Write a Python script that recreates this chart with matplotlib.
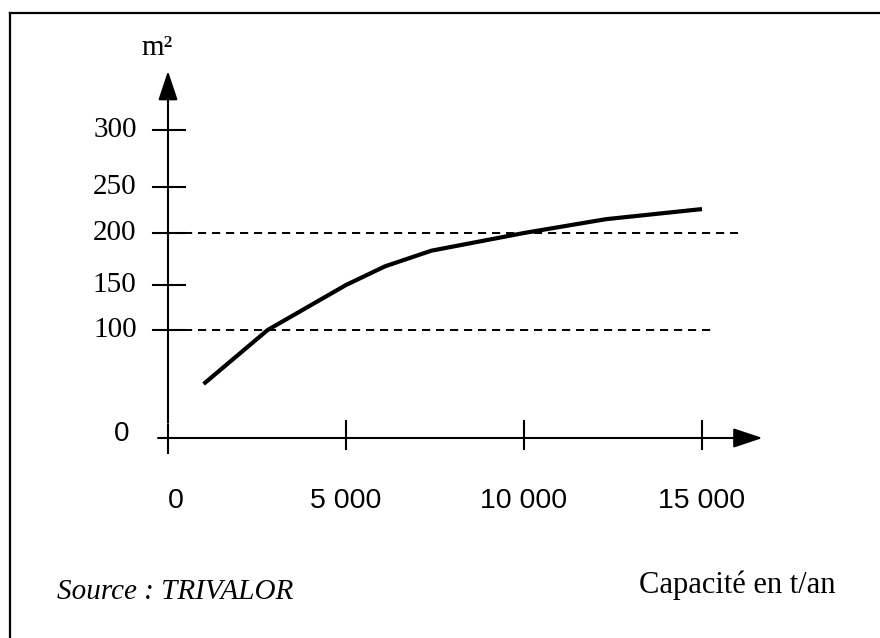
import matplotlib
matplotlib.use('Agg')
import matplotlib.pyplot as plt
from matplotlib.lines import Line2D
import numpy as np

# surface needed (m2) vs plant capacity (t/an)
capacity = [1000, 2800, 5000, 6100, 7400, 10000, 12300, 15000]
surface = [50, 100, 150, 168, 183, 200, 215, 226]

x_ticks = [0, 5000, 10000, 15000]
x_labels = ['0', '5 000', '10 000', '15 000']
y_ticks = [100, 150, 200, 250, 300]
y_labels = ['100', '150', '200', '250', '300']
ref_levels = [100, 200]
ref_ends = [15400, 16000]

# the hand drawn y axis is not evenly spaced: piecewise scale through its ticks
anchor_val = np.array([-300, 0, 100, 150, 200, 250, 300, 700])
anchor_row = np.array([762, 438, 330, 285, 233, 187, 130, -270])

def fwd(y):
    return -np.interp(y, anchor_val, anchor_row)

def inv(d):
    return np.interp(d, -anchor_row, anchor_val)

serif = 'Liberation Serif'
sans = 'Liberation Sans'

fig = plt.figure(figsize=(8.8, 6.38), dpi=100)
ax = fig.add_axes([0, 0, 1, 1])
ax.set_yscale('function', functions=(fwd, inv))
ax.set_xlim(-4719, 20000)
ax.set_ylim(-185.2, 430)
ax.set_axis_off()

# frame (only top and left edges are inside the picture)
fig.add_artist(Line2D([10/880, 1], [1-13/638, 1-13/638], lw=1.6, color='k'))
fig.add_artist(Line2D([10/880, 10/880], [0, 1-13/638], lw=1.6, color='k'))

# axes with arrows
arr = dict(arrowstyle='-|>,head_length=1.8,head_width=0.6', mutation_scale=10,
           lw=1.5, color='k', shrinkA=0, shrinkB=0)
ax.annotate('', xy=(16700, 0), xytext=(-280, 0), arrowprops=arr)
ax.annotate('', xy=(0, 359), xytext=(0, 14), arrowprops=arr)

# tick marks
for i, t in enumerate(x_ticks):
    top = 12 if t == 0 else 15.7
    bot = -14 if t == 0 else -10
    ax.plot([t, t], [bot, top], color='k', lw=1.5)
    ax.text(t + (220 if t == 0 else 0), -58, x_labels[i], family=sans, fontsize=20.5,
            ha='center', va='center')
for i, t in enumerate(y_ticks):
    ax.plot([-420, 480], [t, t], color='k', lw=1.5)
    ax.text(-880, t, y_labels[i], family=serif, fontsize=21, ha='right', va='center')
ax.text(-1292, 4, '0', family=sans, fontsize=20, ha='center', va='center')

# dashed reference lines
for lvl, end in zip(ref_levels, ref_ends):
    ax.plot([60, end], [lvl, lvl], color='k', lw=1.4, linestyle=(0, (4.2, 3.0)))

# curve
ax.plot(capacity, surface, color='k', lw=3, solid_joinstyle='round', solid_capstyle='butt')

ax.text(-309, 382, 'm²', family=serif, fontsize=21, ha='center', va='center')
ax.text(-3118, -143, 'Source : TRIVALOR', family=serif, style='italic', fontsize=21,
        ha='left', va='center')
ax.text(18736, -136, 'Capacité en t/an', family=serif, fontsize=22, ha='right', va='center')

plt.savefig('out.png', dpi=100)
